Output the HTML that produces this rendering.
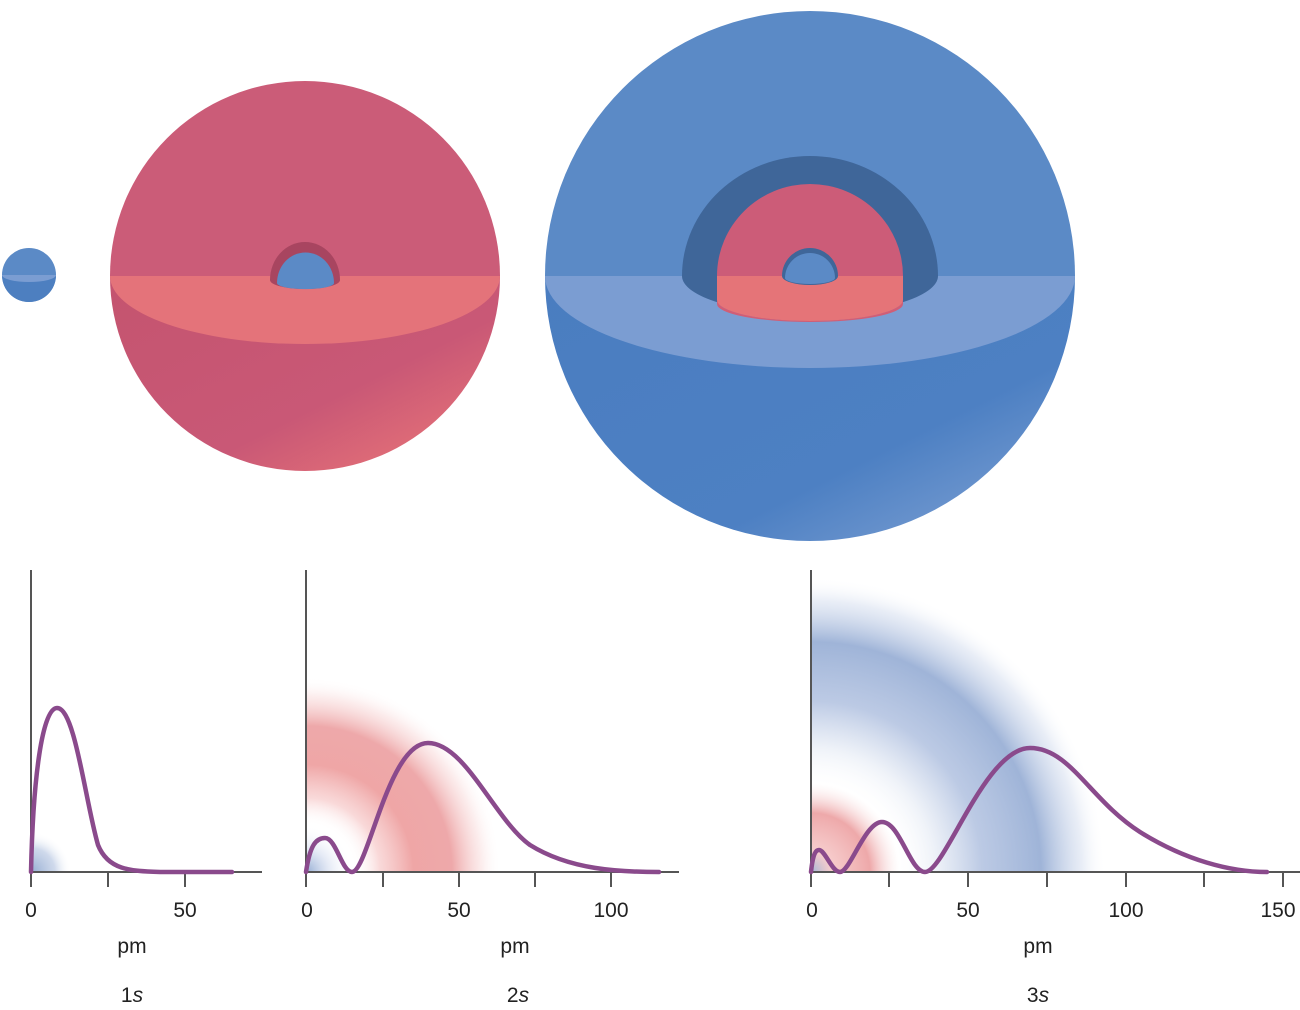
<!DOCTYPE html>
<html><head><meta charset="utf-8"><style>
html,body{margin:0;padding:0;background:#fff}
svg{display:block}
text{font-family:"Liberation Sans",sans-serif;fill:#222}
</style></head><body>
<svg width="1300" height="1010" viewBox="0 0 1300 1010" xmlns="http://www.w3.org/2000/svg">
<defs>
<linearGradient id="redLow" x1="0" y1="0" x2="1" y2="1"><stop offset="0" stop-color="#c4546f"/><stop offset="0.6" stop-color="#c95876"/><stop offset="1" stop-color="#ef7a78"/></linearGradient>
<linearGradient id="blueLow" x1="0" y1="0" x2="1" y2="1"><stop offset="0" stop-color="#4a7dc0"/><stop offset="0.65" stop-color="#4d80c3"/><stop offset="1" stop-color="#86a6d6"/></linearGradient>
<radialGradient id="g1s" cx="31" cy="872" r="40" gradientUnits="userSpaceOnUse"><stop offset="0" stop-color="#7a98c8" stop-opacity="0.8"/><stop offset="0.6" stop-color="#9fb4d8" stop-opacity="0.5"/><stop offset="1" stop-color="#fff" stop-opacity="0"/></radialGradient>
<radialGradient id="g2s" cx="306" cy="872" r="195" gradientUnits="userSpaceOnUse">
<stop offset="0" stop-color="#7a98c8" stop-opacity="0.8"/><stop offset="0.12" stop-color="#aabbe0" stop-opacity="0.3"/><stop offset="0.24" stop-color="#fff" stop-opacity="0"/><stop offset="0.38" stop-color="#f0a0a0" stop-opacity="0.4"/><stop offset="0.55" stop-color="#e88080" stop-opacity="0.7"/><stop offset="0.75" stop-color="#e57a7c" stop-opacity="0.65"/><stop offset="0.9" stop-color="#f2b5b5" stop-opacity="0.25"/><stop offset="1" stop-color="#fff" stop-opacity="0"/></radialGradient>
<radialGradient id="g3s" cx="811" cy="872" r="295" gradientUnits="userSpaceOnUse">
<stop offset="0" stop-color="#7a98c8" stop-opacity="0.7"/><stop offset="0.07" stop-color="#ee9a9a" stop-opacity="0.5"/><stop offset="0.2" stop-color="#e57a7c" stop-opacity="0.65"/><stop offset="0.3" stop-color="#fff" stop-opacity="0.2"/><stop offset="0.42" stop-color="#e4eaf4" stop-opacity="0.6"/><stop offset="0.58" stop-color="#9fb3d9" stop-opacity="0.7"/><stop offset="0.78" stop-color="#7f9bcb" stop-opacity="0.75"/><stop offset="0.92" stop-color="#c8d4ea" stop-opacity="0.4"/><stop offset="1" stop-color="#fff" stop-opacity="0"/></radialGradient>
</defs>

<!-- 1s small sphere -->
<circle cx="29" cy="275" r="27" fill="#5b8ac6"/>
<path d="M2 275 A27 27 0 0 0 56 275Z" fill="#4d7fc0"/>
<path d="M2 275 A27 7 0 0 0 56 275Z" fill="#7b9dd2"/>

<!-- 2s sphere -->
<path d="M110 276 A195 195 0 0 1 500 276Z" fill="#cb5c78"/>
<path d="M110 276 A195 195 0 0 0 500 276Z" fill="url(#redLow)"/>
<path d="M110 276 A195 68 0 0 0 500 276Z" fill="#e4737a"/>
<path d="M270 280 A35 38 0 0 1 340 280 A35 9 0 0 1 270 280Z" fill="#a84560"/>
<path d="M277 283 A28 30 0 0 1 334 283 A28 6 0 0 1 277 283Z" fill="#5b8ac6"/>

<!-- 3s sphere -->
<path d="M545 276 A265 265 0 0 1 1075 276Z" fill="#5b8ac6"/>
<path d="M545 276 A265 265 0 0 0 1075 276Z" fill="url(#blueLow)"/>
<path d="M545 276 A265 92 0 0 0 1075 276Z" fill="#7b9dd2"/>
<path d="M682 276 A128 120 0 0 1 938 276 A128 38 0 0 1 682 276Z" fill="#3f6699"/>
<path d="M717 276 A93 92 0 0 1 903 276 L903 300 A93 21 0 0 1 717 300Z" fill="#cc5c78"/>
<path d="M717 276 L903 276 L903 300 A93 21 0 0 1 717 300Z" fill="#e57478"/>
<path d="M717 300 A93 21 0 0 0 903 300 L903 304 A93 18 0 0 1 717 304Z" fill="#d05e76"/>
<path d="M782 276 A28 28 0 0 1 838 276 A28 9 0 0 1 782 276Z" fill="#3f6699"/>
<path d="M785 278 A25 25 0 0 1 835 278 A25 6 0 0 1 785 278Z" fill="#5b8ac6"/>

<!-- gradients in plots -->
<rect x="31" y="832" width="40" height="40" fill="url(#g1s)"/>
<rect x="306" y="677" width="195" height="195" fill="url(#g2s)"/>
<rect x="811" y="577" width="295" height="295" fill="url(#g3s)"/>

<!-- axes -->
<g stroke="#555" stroke-width="2" fill="none">
<path d="M31 570 V872 H262 M108 872 V887 M185 872 V887 M31 872 V887"/>
<path d="M306 570 V872 H679 M306 872 V887 M383 872 V887 M459 872 V887 M535 872 V887 M611 872 V887"/>
<path d="M811 570 V872 H1300 M811 872 V887 M889 872 V887 M968 872 V887 M1047 872 V887 M1126 872 V887 M1204 872 V887 M1283 872 V887"/>
</g>

<!-- curves -->
<g stroke="#8a4a8c" stroke-width="4.5" fill="none" stroke-linecap="round">
<path d="M31 872 C33 780 42 708 57 708 C75 708 85 800 98 845 C108 870 130 871 160 872 C190 872 215 872 232 872"/>
<path d="M306 872 C310 845 316 838 325 838 C336 838 342 872 352 872 C368 872 388 743 428 743 C465 743 495 820 530 845 C570 870 620 872 659 872"/>
<path d="M811 872 C813 853 816 850 819 850 C825 850 832 872 840 872 C850 872 865 822 882 822 C900 822 910 872 925 872 C945 872 985 748 1030 748 C1070 748 1090 800 1140 832 C1185 860 1230 872 1267 872"/>
</g>

<!-- labels -->
<g font-size="21" text-anchor="middle">
<text x="31" y="917">0</text><text x="185" y="917">50</text>
<text x="132" y="953">pm</text>
<text x="132" y="1002">1<tspan font-style="italic">s</tspan></text>
<text x="307" y="917">0</text><text x="459" y="917">50</text><text x="611" y="917">100</text>
<text x="515" y="953">pm</text>
<text x="518" y="1002">2<tspan font-style="italic">s</tspan></text>
<text x="812" y="917">0</text><text x="968" y="917">50</text><text x="1126" y="917">100</text><text x="1278" y="917">150</text>
<text x="1038" y="953">pm</text>
<text x="1038" y="1002">3<tspan font-style="italic">s</tspan></text>
</g>
</svg>
</body></html>
